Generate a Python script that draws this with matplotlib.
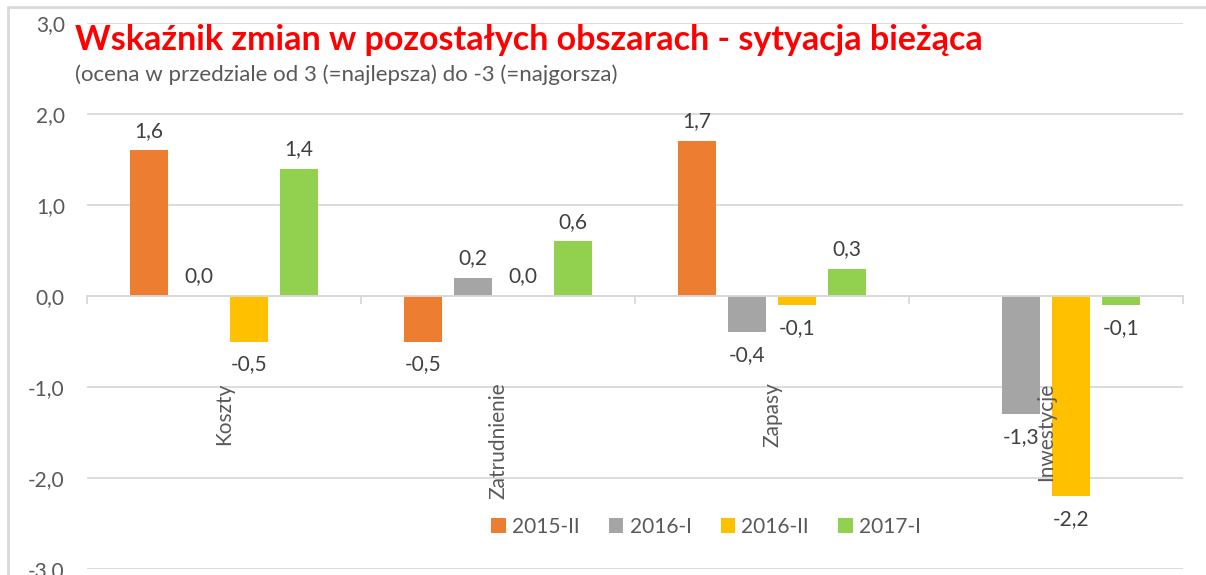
import numpy as np
import matplotlib.pyplot as plt
from matplotlib.patches import Rectangle

plt.rcParams['font.family'] = ['Lato', 'DejaVu Sans']

kategorie = ["Koszty", "Zatrudnienie", "Zapasy", "Inwestycje"]
serie = ["2015-II", "2016-I", "2016-II", "2017-I"]
w_2015_II = [1.6, -0.5, 1.7, np.nan]
w_2016_I = [0.0, 0.2, -0.4, -1.3]
w_2016_II = [-0.5, 0.0, -0.1, -2.2]
w_2017_I = [1.4, 0.6, 0.3, -0.1]
kolory = ["#ED7D31", "#A5A5A5", "#FFC000", "#92D050"]

tekst = "#595959"
siatka = "#D9D9D9"
fs = 15

fig = plt.figure(figsize=(12.06, 5.75), dpi=100)
ax = fig.add_axes([87/1206, 1-569/575, (1183-87)/1206, (569-23)/575])

x = np.arange(len(kategorie))
krok = 0.1825
szer = 0.142
for j, (nazwa, wart, kol) in enumerate(zip(serie, [w_2015_II, w_2016_I, w_2016_II, w_2017_I], kolory)):
    pos = x + (j - 1.5) * krok
    ax.bar(pos, wart, width=szer, color=kol, label=nazwa, zorder=3)
    for p, v in zip(pos, wart):
        if np.isnan(v):
            continue
        etykieta = f"{v:.1f}".replace(".", ",")
        if v >= 0:
            ax.annotate(etykieta, (p, v), xytext=(0, 7), textcoords="offset points",
                        ha="center", va="bottom", fontsize=fs, color="#404040")
        else:
            ax.annotate(etykieta, (p, v), xytext=(0, -9), textcoords="offset points",
                        ha="center", va="top", fontsize=fs, color="#404040")

# etykiety kategorii (obrocone, pod osia)
for i, k in enumerate(kategorie):
    ax.text(i, -0.95, k, rotation=90, ha="center", va="top", fontsize=fs, color=tekst)

ax.set_xlim(-0.5, 3.5)
ax.set_ylim(-3, 3)
ax.set_yticks(np.arange(-3, 4, 1))
ax.set_yticklabels([f"{v:.1f}".replace(".", ",") for v in np.arange(-3, 4, 1)])
ax.tick_params(axis="y", length=0, pad=16, labelsize=fs, labelcolor=tekst)
ax.set_xticks(np.arange(-0.5, 4, 1))
ax.set_xticklabels([])
ax.tick_params(axis="x", direction="out", length=6, width=1.3, color=siatka)
ax.grid(axis="y", color=siatka, linewidth=1.3, zorder=0)
for s in ["top", "right", "left"]:
    ax.spines[s].set_visible(False)
ax.spines["bottom"].set_position(("data", 0))
ax.spines["bottom"].set_color(siatka)
ax.spines["bottom"].set_linewidth(1.3)
ax.spines["bottom"].set_zorder(4)

ax.legend(loc="center", bbox_to_anchor=(706/1206, 1-527/575), bbox_transform=fig.transFigure,
          ncol=4, frameon=False, fontsize=fs, labelcolor=tekst,
          handlelength=0.7, handleheight=0.7, handletextpad=0.3, columnspacing=1.4)

fig.text(75/1206, 1-40/575, "Wskaźnik zmian w pozostałych obszarach - sytyacja bieżąca",
         color="#FF0000", fontsize=24.5, fontweight="bold", va="center", ha="left")
fig.text(75/1206, 1-75/575, "(ocena w przedziale od 3 (=najlepsza) do -3 (=najgorsza)",
         color=tekst, fontsize=16, va="center", ha="left")

# ramka wykresu
fig.patches.append(Rectangle((8/1206, -0.05), 1.2, 1-7/575 + 0.05, transform=fig.transFigure,
                             fill=False, edgecolor="#D9D9D9", linewidth=2))

fig.savefig("out.png", dpi=100)
